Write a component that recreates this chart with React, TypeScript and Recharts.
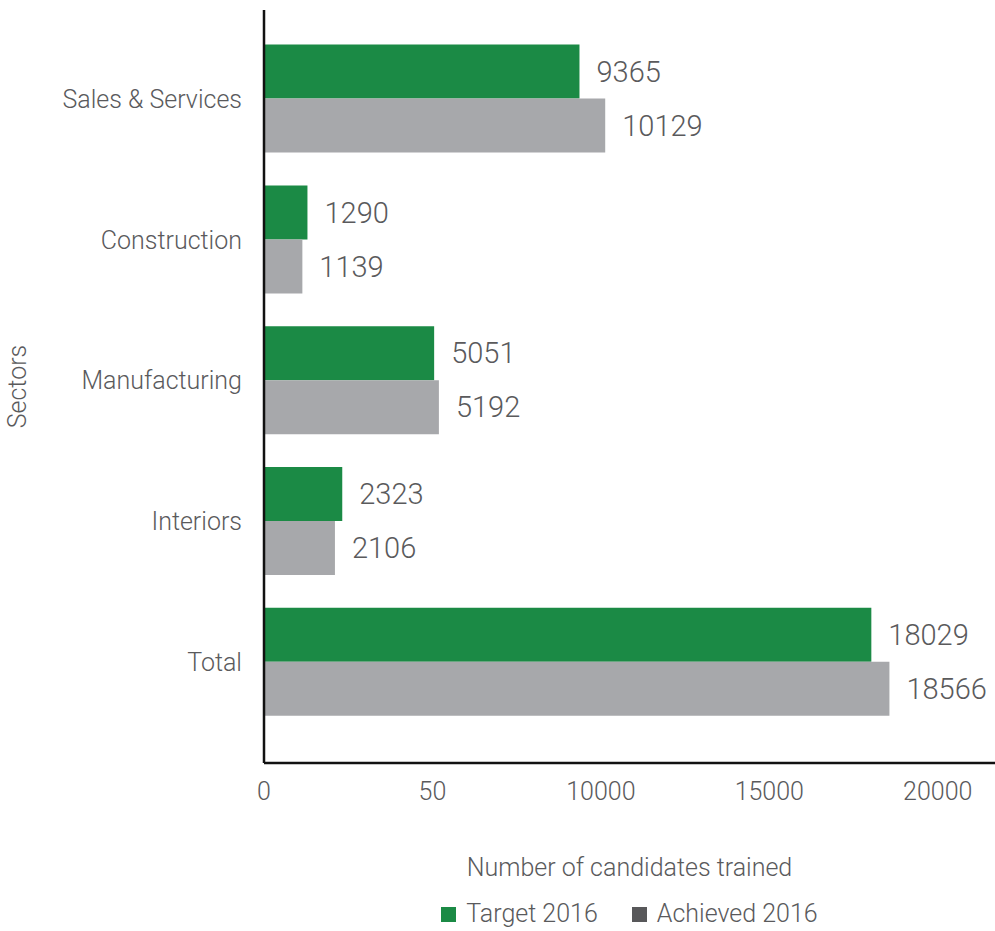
import React from 'react';
import { BarChart, Bar, XAxis, YAxis, Legend, LabelList, Label } from 'recharts';

const sectors: string[] = ['Sales & Services', 'Construction', 'Manufacturing', 'Interiors', 'Total'];
const target2016: number[] = [9365, 1290, 5051, 2323, 18029];
const achieved2016: number[] = [10129, 1139, 5192, 2106, 18566];

const xTickValues: number[] = [0, 5000, 10000, 15000, 20000];
const xTickLabels: string[] = ['0', '50', '10000', '15000', '20000'];

const series = [
  { key: 'target', name: 'Target 2016', color: '#1b8a45', legendColor: '#1b8a45' },
  { key: 'achieved', name: 'Achieved 2016', color: '#a7a8ab', legendColor: '#58585a' },
];

const data = sectors.map((sector, i) => ({
  sector,
  target: target2016[i],
  achieved: achieved2016[i],
}));

const textColor = '#5a5a5c';

const renderLegend = () => (
  <div style={{ display: 'flex', justifyContent: 'center', alignItems: 'center', gap: 34 }}>
    {series.map((s) => (
      <div key={s.key} style={{ display: 'flex', alignItems: 'center', gap: 10 }}>
        <span style={{ width: 15, height: 15, background: s.legendColor, display: 'inline-block' }} />
        <span style={{ fontSize: 25, color: textColor, lineHeight: '30px' }}>{s.name}</span>
      </div>
    ))}
  </div>
);

const App: React.FC = () => {
  return (
    <div style={{ width: 995, height: 931, fontFamily: 'Roboto, sans-serif', fontWeight: 300 }}>
      <style>{'body { margin: 0; }'}</style>
      <BarChart
        width={995}
        height={931}
        data={data}
        layout="vertical"
        margin={{ top: 10, right: 0, bottom: 0, left: 0 }}
        barGap={0}
      >
        <XAxis
          type="number"
          domain={[0, 21700]}
          ticks={xTickValues}
          tickFormatter={(v: number) => xTickLabels[xTickValues.indexOf(v)] ?? String(v)}
          height={168}
          axisLine={{ stroke: '#111', strokeWidth: 2.5 }}
          tickLine={false}
          tickMargin={13}
          tick={{ fontSize: 25, fill: textColor }}
        >
          <Label
            value="Number of candidates trained"
            position="insideTop"
            offset={95}
            style={{ fontSize: 25, fill: textColor }}
          />
        </XAxis>
        <YAxis
          type="category"
          dataKey="sector"
          width={264}
          padding={{ top: 18.6, bottom: 30.4 }}
          axisLine={{ stroke: '#111', strokeWidth: 2.5 }}
          tickLine={false}
          tickMargin={16}
          tick={{ fontSize: 25, fill: textColor }}
        >
          <Label
            value="Sectors"
            angle={-90}
            position="insideLeft"
            offset={17}
            style={{ fontSize: 25, fill: textColor, textAnchor: 'middle' }}
          />
        </YAxis>
        <Legend
          layout="horizontal"
          verticalAlign="middle"
          align="center"
          wrapperStyle={{ top: 899, left: 264, width: 731 }}
          content={renderLegend}
        />
        {series.map((s) => (
          <Bar key={s.key} dataKey={s.key} name={s.name} fill={s.color} barSize={54} isAnimationActive={false}>
            <LabelList dataKey={s.key} position="right" offset={17} style={{ fontSize: 29, fill: textColor }} />
          </Bar>
        ))}
      </BarChart>
    </div>
  );
};

export default App;
